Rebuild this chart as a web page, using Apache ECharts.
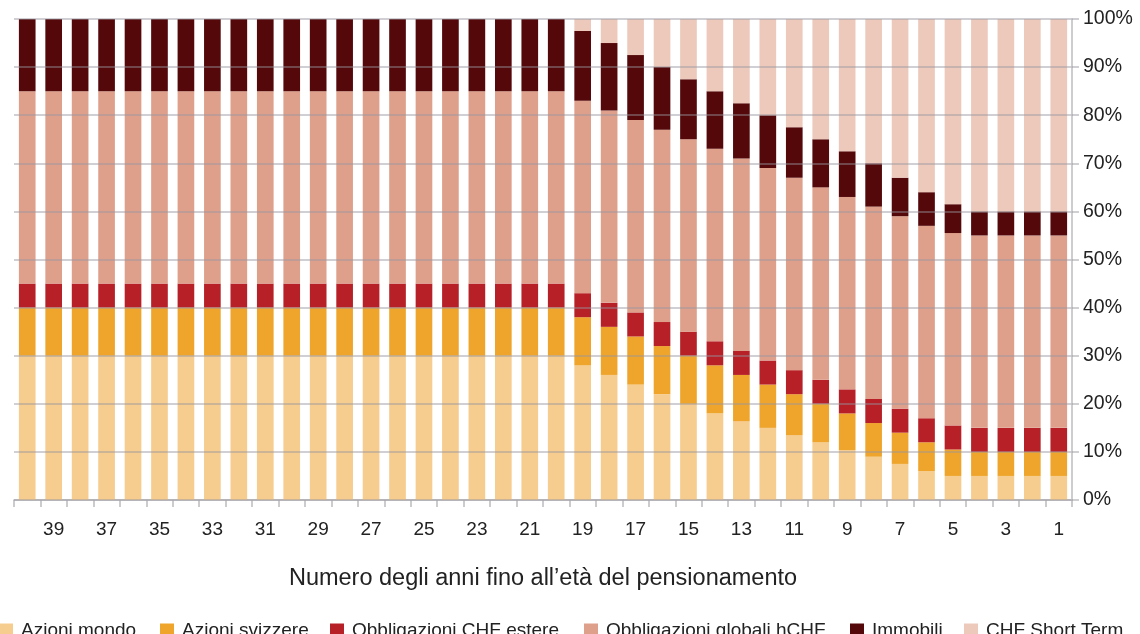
<!DOCTYPE html>
<html>
<head>
<meta charset="utf-8">
<script src="https://cdn.jsdelivr.net/npm/echarts@6/dist/echarts.min.js"></script>
<style>
  html,body{margin:0;padding:0;background:#fff;}
  #chart{width:1140px;height:634px;}
</style>
</head>
<body>
<div id="chart"></div>
<script>
    // anni fino al pensionamento
    var anni = ['40','39','38','37','36','35','34','33','32','31','30','29','28','27','26','25','24','23','22','21',
                '20','19','18','17','16','15','14','13','12','11','10','9','8','7','6','5','4','3','2','1'];

    var azioniMondo = [30,30,30,30,30,30,30,30,30,30,30,30,30,30,30,30,30,30,30,30,
                       30,28,26,24,22,20,18,16.4,15,13.5,12,10.4,9,7.5,6,5,5,5,5,5];
    var azioniSvizzere = [10,10,10,10,10,10,10,10,10,10,10,10,10,10,10,10,10,10,10,10,
                          10,10,10,10,10,10,10,9.6,9,8.5,8,7.6,7,6.5,6,5.5,5,5,5,5];
    var obbligCHF = [5,5,5,5,5,5,5,5,5,5,5,5,5,5,5,5,5,5,5,5,
                     5,5,5,5,5,5,5,5,5,5,5,5,5,5,5,5,5,5,5,5];
    var obbligGlobali = [40,40,40,40,40,40,40,40,40,40,40,40,40,40,40,40,40,40,40,40,
                         40,40,40,40,40,40,40,40,40,40,40,40,40,40,40,40,40,40,40,40];
    var immobili = [15,15,15,15,15,15,15,15,15,15,15,15,15,15,15,15,15,15,15,15,
                    15,14.5,14,13.5,13,12.5,12,11.5,11,10.5,10,9.5,9,8,7,6,5,5,5,5];
    var shortTerm = [0,0,0,0,0,0,0,0,0,0,0,0,0,0,0,0,0,0,0,0,
                     0,2.5,5,7.5,10,12.5,15,17.5,20,22.5,25,27.5,30,33,36,38.5,40,40,40,40];

    var nomi = ['Azioni mondo','Azioni svizzere','Obbligazioni CHF estere','Obbligazioni globali hCHF','Immobili','CHF Short Term'];
    var colori = ['#f6cc8f','#efa52b','#b72027','#dfa08b','#54080a','#edc9bb'];
    var valori = [azioniMondo,azioniSvizzere,obbligCHF,obbligGlobali,immobili,shortTerm];
    var legendLeft = [-1,160,330,584,850,964];

    var font = 'Liberation Sans';

    var series = [];
    for(var i=0;i<nomi.length;i++){
        series.push({
            name:nomi[i],
            type:'bar',
            stack:'tot',
            barCategoryGap:'37%',
            itemStyle:{color:colori[i]},
            emphasis:{disabled:true},
            data:valori[i]
        });
    }

    var legends = [];
    for(var k=0;k<nomi.length;k++){
        legends.push({
            data:[nomi[k]],
            left:legendLeft[k],
            top:621,
            itemWidth:14,
            itemHeight:14,
            icon:'rect',
            padding:0,
            textStyle:{fontFamily:font,fontSize:19,color:'#222',padding:[0,0,0,3]}
        });
    }

    var myChart = echarts.init(document.getElementById('chart'));
    var option = {
        animation:false,
        color:colori,
        grid:{left:14,right:68,top:19,bottom:134},
        legend:legends,
        xAxis:{
            type:'category',
            data:anni,
            name:'Numero degli anni fino all’età del pensionamento',
            nameLocation:'middle',
            nameGap:67,
            nameTextStyle:{fontFamily:font,fontSize:23.5,color:'#222'},
            axisLine:{lineStyle:{color:'#bcbcc0',width:1.5}},
            axisTick:{show:true,length:7,interval:0,lineStyle:{color:'#bcbcc0',width:1.5}},
            axisLabel:{
                interval:function(index){ return index%2===1; },
                margin:20,
                fontFamily:font,fontSize:19,color:'#222'
            }
        },
        yAxis:{
            type:'value',
            position:'right',
            min:0,max:100,interval:10,
            z:5,
            axisLine:{show:true,lineStyle:{color:'#bcbcc0',width:1.5}},
            axisTick:{show:true,length:7,lineStyle:{color:'rgba(150,150,158,0.6)',width:1.5}},
            splitLine:{show:true,lineStyle:{color:'rgba(150,150,158,0.6)',width:1.5}},
            axisLabel:{
                margin:11,
                formatter:'{value}%',
                fontFamily:font,fontSize:19.5,color:'#222',
                padding:[3,0,0,0]
            }
        },
        series:series
    };
    myChart.setOption(option);
</script>
</body>
</html>
